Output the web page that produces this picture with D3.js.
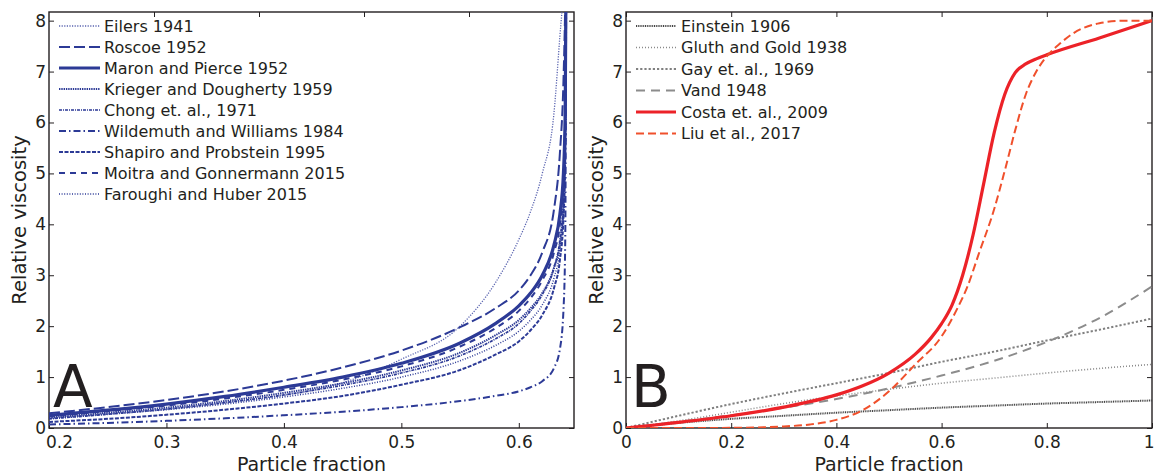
<!DOCTYPE html>
<html><head><meta charset="utf-8">
<script src="https://cdn.jsdelivr.net/npm/d3@7"></script>
<style>
body{margin:0;background:#fff}
svg{display:block}
text{font-family:"DejaVu Sans",Verdana,sans-serif;fill:#231f20}
</style>
</head><body>
<svg id="c" width="1155" height="475"></svg>
<script>
// ---------- Panel A data (log10 relative viscosity vs particle fraction) ----------
const phiA = [0.2,0.25,0.3,0.35,0.4,0.45,0.5,0.55,0.58,0.6,0.61,0.62,0.63,0.635,0.638,0.6395,0.6405];
const labelsA = ["Eilers 1941","Roscoe 1952","Maron and Pierce 1952","Krieger and Dougherty 1959","Chong et. al., 1971","Wildemuth and Williams 1984","Shapiro and Probstein 1995","Moitra and Gonnermann 2015","Faroughi and Huber 2015"];
const eilers    = [0.20,0.28,0.37,0.49,0.64,0.89,1.35,2.00,2.85,3.70,4.25,5.00,6.20,7.70,8.60,9.3,10];
const roscoe    = [0.29,0.41,0.55,0.72,0.93,1.19,1.52,1.98,2.35,2.70,3.00,3.45,4.30,5.40,6.80,8.3,10];
const maron     = [0.25,0.35,0.47,0.62,0.80,1.00,1.27,1.67,2.05,2.40,2.65,3.00,3.60,4.20,5.00,6.2,10];
const krieger   = [0.21,0.30,0.40,0.53,0.69,0.88,1.13,1.48,1.82,2.12,2.35,2.65,3.15,3.60,4.30,5.4,10];
const chong     = [0.18,0.27,0.37,0.50,0.65,0.84,1.08,1.42,1.75,2.05,2.30,2.62,3.15,3.70,4.50,5.7,10];
const wildemuth = [0.07,0.10,0.14,0.19,0.25,0.32,0.41,0.53,0.63,0.72,0.80,0.92,1.18,1.55,2.30,3.6,10];
const shapiro   = [0.12,0.18,0.26,0.36,0.48,0.63,0.85,1.14,1.44,1.70,1.92,2.22,2.75,3.30,4.10,5.3,10];
const moitra    = [0.23,0.33,0.44,0.58,0.75,0.95,1.21,1.60,1.96,2.30,2.55,2.90,3.45,4.00,4.80,6.0,10];
const faroughi  = [0.19,0.27,0.36,0.47,0.61,0.78,1.00,1.32,1.62,1.90,2.12,2.42,2.95,3.50,4.30,5.5,10];
const seriesA = [eilers,roscoe,maron,krieger,chong,wildemuth,shapiro,moitra,faroughi];
const xTicksA = [0.2,0.3,0.4,0.5,0.6];
const yTicks = [0,1,2,3,4,5,6,7,8];

// ---------- Panel B data ----------
const phiB = [0,0.1,0.2,0.3,0.4,0.5,0.6,0.7,0.8,0.9,1.0];
const einstein = [0,0.10,0.18,0.24,0.30,0.35,0.40,0.44,0.48,0.51,0.54];
const gluth    = [0,0.14,0.31,0.48,0.63,0.76,0.88,0.98,1.08,1.17,1.25];
const gay      = [0,0.24,0.47,0.68,0.88,1.08,1.30,1.50,1.72,1.93,2.15];
const vand     = [0,0.12,0.25,0.40,0.57,0.78,1.03,1.32,1.69,2.16,2.78];
const phiCosta = [0,0.1,0.2,0.3,0.4,0.45,0.5,0.55,0.58,0.6,0.62,0.64,0.66,0.68,0.7,0.72,0.74,0.76,0.78,0.8,0.9,1.0];
const costa    = [0,0.11,0.24,0.41,0.65,0.83,1.08,1.45,1.77,2.05,2.42,3.0,3.8,4.8,5.8,6.55,6.98,7.15,7.25,7.33,7.66,8.0];
const phiLiu   = [0,0.1,0.2,0.25,0.3,0.35,0.4,0.45,0.5,0.55,0.6,0.63,0.65,0.67,0.7,0.72,0.74,0.76,0.78,0.8,0.825,0.85,0.9,0.95,1.0];
const liu      = [0,0,0.003,0.01,0.03,0.07,0.16,0.35,0.72,1.25,1.8,2.35,2.8,3.4,4.3,5.05,5.85,6.55,7.0,7.3,7.55,7.75,7.95,8.0,8.0];
const labelsB = ["Einstein 1906","Gluth and Gold 1938","Gay et. al., 1969","Vand 1948","Costa et. al., 2009","Liu et al., 2017"];
const xTicksB = [0,0.2,0.4,0.6,0.8,1];

// ---------- styles ----------
const blue = "#2c3a96";
const stylesA = [
  {c:"#5a64b0", w:1.3, d:"1.2,1.4"},
  {c:blue, w:2.0, d:"11,4"},
  {c:blue, w:3.2, d:null},
  {c:blue, w:2.0, d:"1.4,0.9"},
  {c:blue, w:1.7, d:"3,1,1,1"},
  {c:blue, w:2.0, d:"7,3,1.5,3"},
  {c:blue, w:2.0, d:"4,1.5"},
  {c:blue, w:2.0, d:"6,5"},
  {c:blue, w:1.5, d:"1,1.6"}
];
const stylesB = [
  {c:"#444", w:2.0, d:"1,0.8"},
  {c:"#8a8a8a", w:1.6, d:"1,2"},
  {c:"#808080", w:2.0, d:"2.2,2"},
  {c:"#8c8c8c", w:2.0, d:"9,6"},
  {c:"#ec2228", w:3.2, d:null},
  {c:"#f0502c", w:2.0, d:"8,4"}
];

const svg = d3.select("#c");
const yTop = 12, yBot = 428, yMax = 8.17;
const axisColor = "#231f20";

function drawPanel(id, xs, y, xTicks, xFmt, topScale, topTicks, label, labelX){
  const [x0,x1] = xs.range();
  const g = svg.append("g");
  g.append("clipPath").attr("id","clip"+id).append("rect")
    .attr("x",x0).attr("y",yTop).attr("width",x1-x0).attr("height",yBot-yTop);
  const bottom = g.append("g").attr("transform",`translate(0,${yBot})`)
    .call(d3.axisBottom(xs).tickValues(xTicks).tickFormat(xFmt).tickSizeInner(-5).tickSizeOuter(0).tickPadding(8));
  const top = g.append("g").attr("transform",`translate(0,${yTop})`)
    .call(d3.axisTop(topScale).tickValues(topTicks).tickFormat("").tickSizeInner(-5).tickSizeOuter(0));
  const left = g.append("g").attr("transform",`translate(${x0},0)`)
    .call(d3.axisLeft(y).tickValues(yTicks).tickSizeInner(-5).tickSizeOuter(0).tickPadding(3));
  const right = g.append("g").attr("transform",`translate(${x1},0)`)
    .call(d3.axisRight(y).tickValues(yTicks).tickFormat("").tickSizeInner(-5).tickSizeOuter(0));
  [bottom,top,left,right].forEach(a=>{
    a.select(".domain").remove();
    a.selectAll("line").attr("stroke",axisColor).attr("stroke-width",1);
    a.selectAll("text").attr("font-size",17).attr("fill",axisColor)
      .attr("font-family",'"DejaVu Sans",Verdana,sans-serif');
  });
  g.append("rect").attr("x",x0).attr("y",yTop).attr("width",x1-x0).attr("height",yBot-yTop)
    .attr("fill","none").attr("stroke",axisColor).attr("stroke-width",1.4);
  g.append("text").attr("x",(x0+x1)/2).attr("y",470.5).attr("text-anchor","middle")
    .attr("font-size",19).text("Particle fraction");
  g.append("text").attr("transform",`translate(${x0-23},${(yTop+yBot)/2}) rotate(-90)`)
    .attr("text-anchor","middle").attr("font-size",19.5).text("Relative viscosity");
  g.append("text").attr("x",labelX).attr("y",407).attr("font-size",58).text(label);
  return {g, bottom};
}

// ---------- Panel A ----------
const xA = d3.scaleLinear().domain([0.2,0.647]).range([49,574]);
const xAtop = d3.scaleLinear().domain([0,1]).range([49,574]);
const yA = d3.scaleLinear().domain([0,yMax]).range([yBot,yTop]);
const pA = drawPanel("A", xA, yA, xTicksA, d3.format(".1f"), xAtop, [0.2,0.4,0.6,0.8], "A", 53);
pA.bottom.selectAll(".tick").filter(d=>d===0.2).select("text").attr("dx",10);

const lineA = d3.line().x((d,i)=>xA(phiA[i])).y(d=>yA(d)).curve(d3.curveMonotoneX);
const gA = pA.g.append("g").attr("clip-path","url(#clipA)");
[5,6,8,0,4,3,7,2,1].forEach(k=>{
  const s = stylesA[k];
  gA.append("path").datum(seriesA[k]).attr("d",lineA)
    .attr("fill","none").attr("stroke",s.c).attr("stroke-width",s.w)
    .attr("stroke-dasharray",s.d).attr("stroke-linejoin","round");
});
labelsA.forEach((t,i)=>{
  const s = stylesA[i], yy = 26 + i*21;
  pA.g.append("line").attr("x1",59).attr("x2",100).attr("y1",yy).attr("y2",yy)
    .attr("stroke",s.c).attr("stroke-width",s.w).attr("stroke-dasharray",s.d);
  pA.g.append("text").attr("x",104).attr("y",yy).attr("dy","0.36em").attr("font-size",16).text(t);
});

// ---------- Panel B ----------
const xB = d3.scaleLinear().domain([0,1]).range([626,1152]);
const yB = d3.scaleLinear().domain([0,yMax]).range([yBot,yTop]);
const pB = drawPanel("B", xB, yB, xTicksB, d=>d===0||d===1?String(d):d3.format(".1f")(d), xB, xTicksB, "B", 631);
pB.bottom.selectAll(".tick").filter(d=>d===1).select("text").attr("text-anchor","end").attr("dx",2);
const gB = pB.g.append("g").attr("clip-path","url(#clipB)");
const seriesB = [
  {xs:phiB, ys:einstein},{xs:phiB, ys:gluth},{xs:phiB, ys:gay},{xs:phiB, ys:vand},
  {xs:phiCosta, ys:costa},{xs:phiLiu, ys:liu}
];
seriesB.forEach((ser,k)=>{
  const s = stylesB[k];
  const ln = d3.line().x((d,i)=>xB(ser.xs[i])).y(d=>yB(d)).curve(d3.curveMonotoneX);
  gB.append("path").datum(ser.ys).attr("d",ln)
    .attr("fill","none").attr("stroke",s.c).attr("stroke-width",s.w)
    .attr("stroke-dasharray",s.d).attr("stroke-linejoin","round");
});
labelsB.forEach((t,i)=>{
  const s = stylesB[i], yy = 26 + i*21.5;
  pB.g.append("line").attr("x1",636).attr("x2",676).attr("y1",yy).attr("y2",yy)
    .attr("stroke",s.c).attr("stroke-width",s.w).attr("stroke-dasharray",s.d);
  pB.g.append("text").attr("x",681).attr("y",yy).attr("dy","0.36em").attr("font-size",16).text(t);
});
</script>
</body></html>
